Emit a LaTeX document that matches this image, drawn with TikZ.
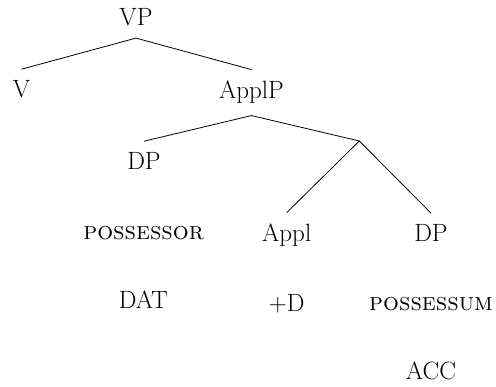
\documentclass[tikz,border=0pt]{standalone}
\begin{document}
\begin{tikzpicture}[x=1pt,y=-1pt,
  lbl/.style={anchor=base,inner xsep=0pt,inner ysep=11.5pt,font=\fontsize{25}{30}\selectfont},
  feat/.style={anchor=base,inner sep=0pt,font=\fontsize{25}{30}\selectfont},
  edge/.style={line width=0.8pt}]
\useasboundingbox (0,0) rectangle (496,387);
\node[lbl] (vp) at (136,26) {VP};
\node[lbl] (v) at (21.5,98) {V};
\node[lbl] (applp) at (251.5,99) {ApplP};
\node[lbl] (dp1) at (144,170) {DP};
\coordinate (bar) at (359.3,141);
\node[lbl] (appl) at (286.7,242) {Appl};
\node[lbl] (dp2) at (431,242) {DP};
\node[feat] (poss) at (143.6,239.3) {\textsc{possessor}};
\node[feat] (dat) at (143.3,309) {DAT};
\node[feat] (plusd) at (286.7,311.5) {+D};
\node[feat] (possum) at (431,310.7) {\textsc{possessum}};
\node[feat] (acc) at (431,380) {ACC};
\draw[edge] (v.north) -- (vp.south) -- (applp.north);
\draw[edge] (dp1.north) -- (applp.south) -- (bar);
\draw[edge] (appl.north) -- (bar) -- (dp2.north);
\end{tikzpicture}
\end{document}
